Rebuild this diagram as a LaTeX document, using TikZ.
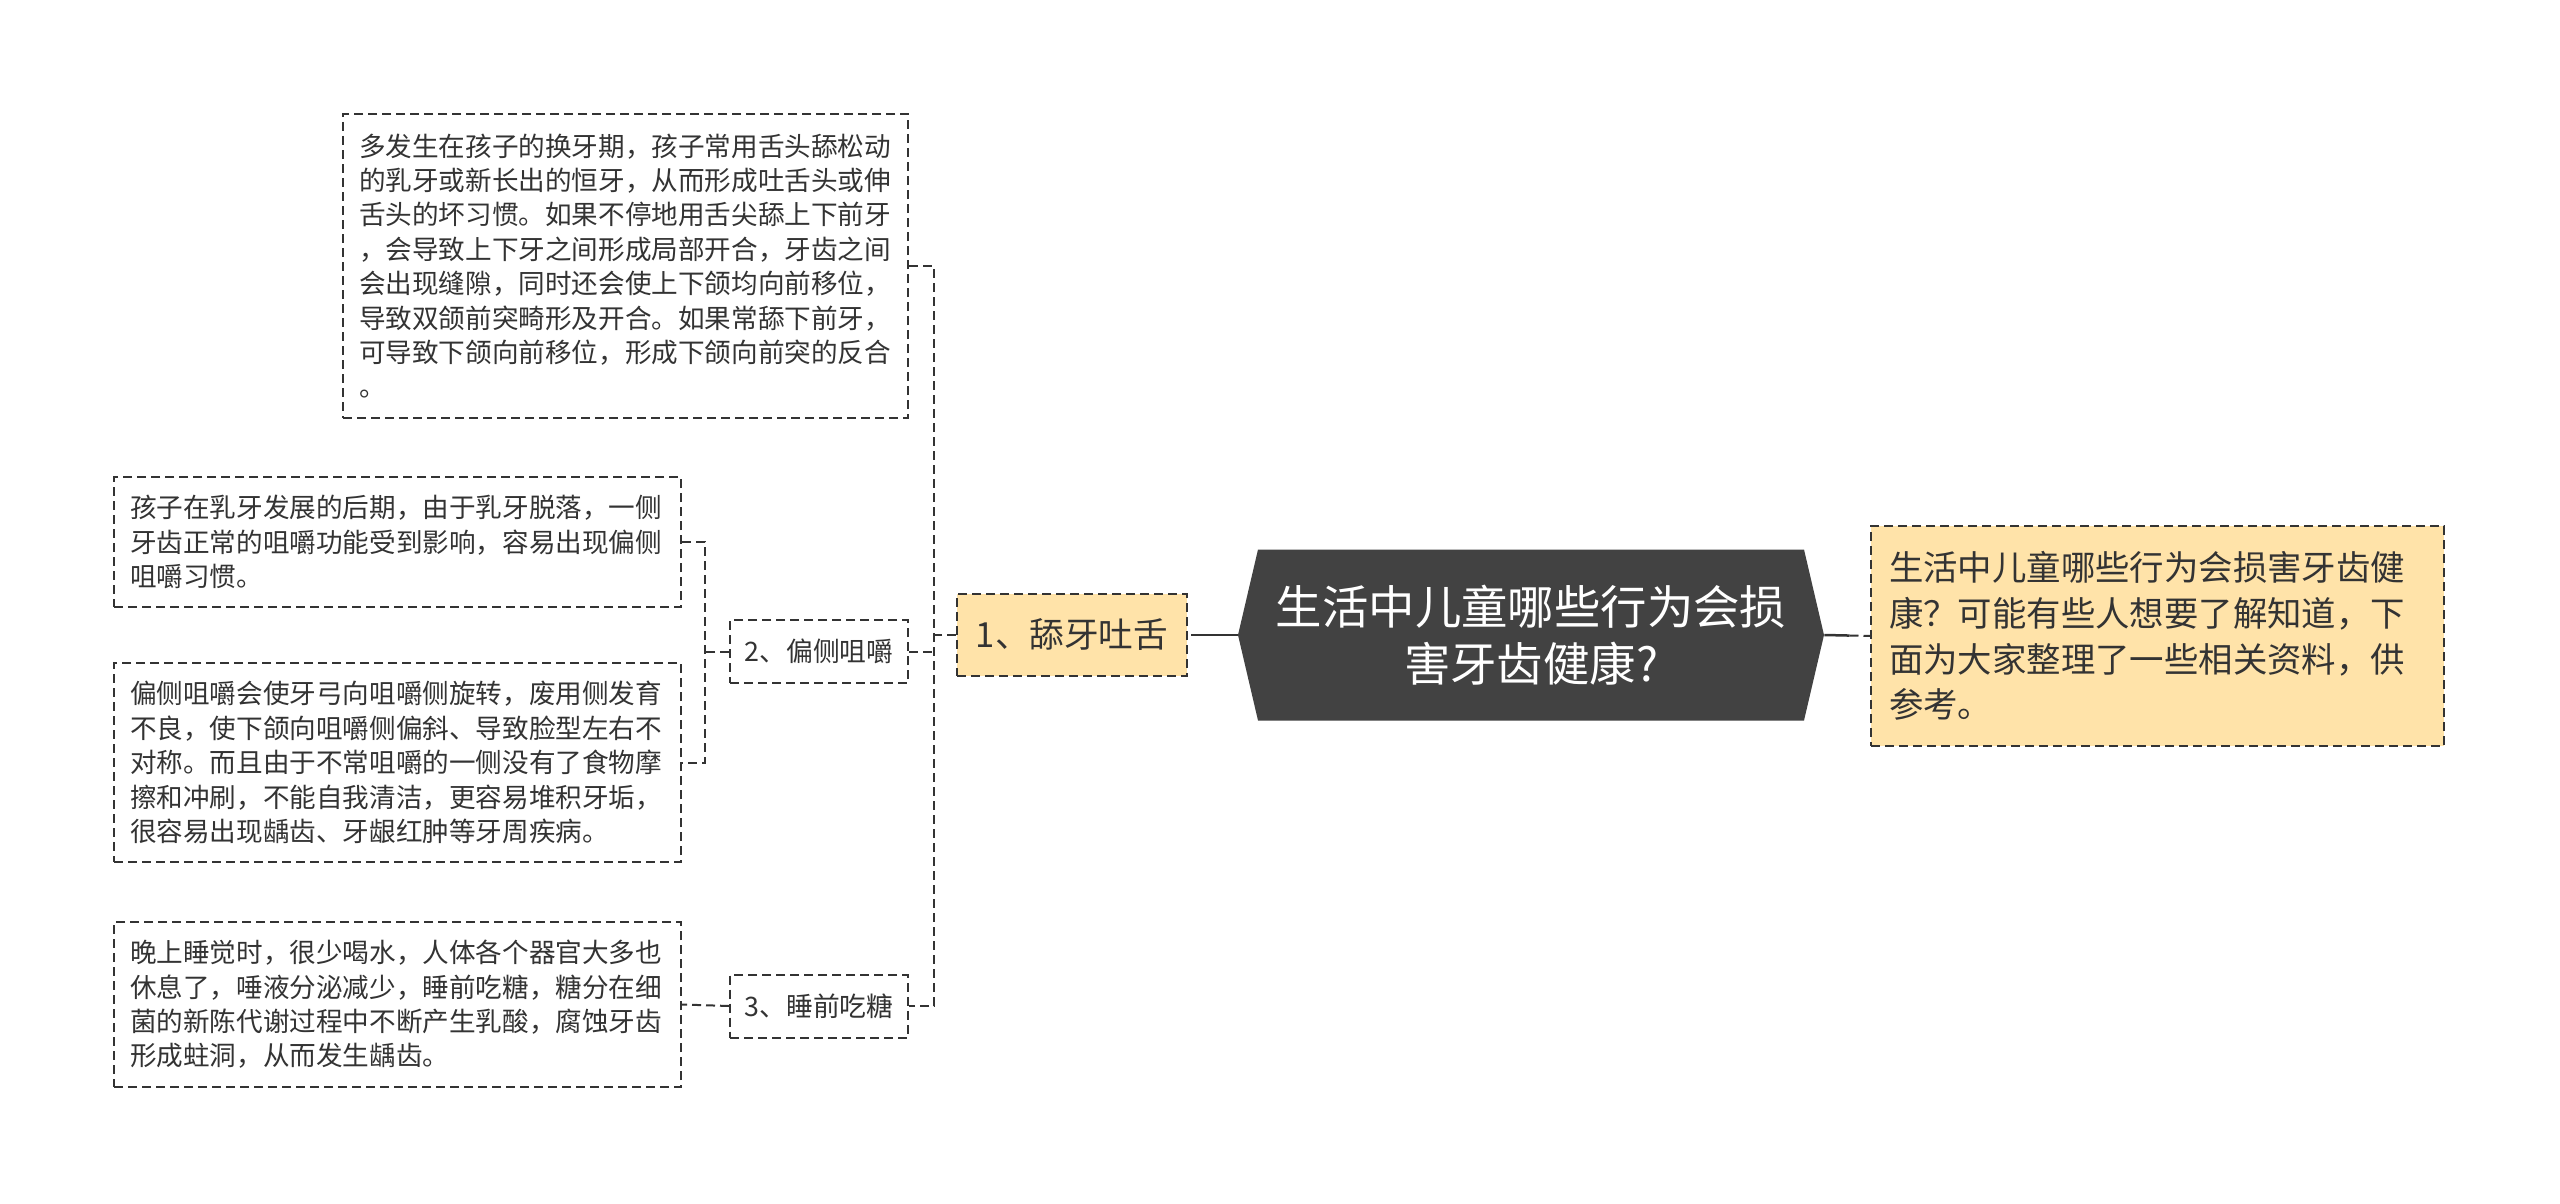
\documentclass[tikz,border=0pt]{standalone}
\usepackage{fontspec}
\setmainfont{Noto Sans CJK SC}
\usetikzlibrary{positioning, calc}
\definecolor{inkgray}{HTML}{333333}
\definecolor{rootgray}{HTML}{424242}
\definecolor{topicfill}{HTML}{FFE3A9}
\tikzset{
  rootbox/.style={minimum width=293pt, minimum height=85.5pt, inner sep=0pt, align=center,
    text=white, font=\fontsize{23.2pt}{28.6pt}\selectfont,
    path picture={\fill[rootgray] ([xshift=10pt]path picture bounding box.north west)
      -- ([xshift=-10pt]path picture bounding box.north east) -- (path picture bounding box.east)
      -- ([xshift=-10pt]path picture bounding box.south east)
      -- ([xshift=10pt]path picture bounding box.south west) -- (path picture bounding box.west) -- cycle;}},
  topic/.style={draw=inkgray, line width=1pt, dash pattern=on 4.5pt off 2.5pt, fill=topicfill,
    text=inkgray, inner sep=0pt},
  sub/.style={draw=inkgray, line width=1pt, dash pattern=on 4.5pt off 2.5pt, text=inkgray,
    inner sep=0pt, minimum width=89pt, minimum height=31.5pt, font=\fontsize{13.4pt}{17.2pt}\selectfont},
  note/.style={draw=inkgray, line width=1pt, dash pattern=on 4.5pt off 2.5pt, text=inkgray,
    inner xsep=8pt, inner ysep=0pt, align=left, text width=267.5pt,
    font=\fontsize{13.3pt}{17.2pt}\selectfont},
  trunk/.style={draw=inkgray, line width=1.25pt},
  branch/.style={draw=inkgray, line width=1pt, dash pattern=on 4.5pt off 2.5pt}
}
\begin{document}
\begin{tikzpicture}[x=0.5pt, y=-0.5pt]
    \fill[white] (0,0) rectangle (2560,1204);
    \node[rootbox] (root) at (1531,635) {生活中儿童哪些行为会损\\害牙齿健康?};
    \node[topic, minimum width=115pt, minimum height=41pt, font=\fontsize{17.3pt}{21pt}\selectfont] (lick) at (1072,635) {1、舔牙吐舌};
    \node[topic, align=left, text width=268.5pt, inner xsep=9pt, minimum height=110pt,
      font=\fontsize{17.2pt}{22.9pt}\selectfont] (intro) at (2157.5,636) {生活中儿童哪些行为会损害牙齿健\\康？可能有些人想要了解知道，下\\面为大家整理了一些相关资料，供\\参考。};
    \node[note, text width=266.5pt, minimum height=152pt] (lickdesc) at (625.5,266) {多发生在孩子的换牙期，孩子常用舌头舔松动\\的乳牙或新长出的恒牙，从而形成吐舌头或伸\\舌头的坏习惯。如果不停地用舌尖舔上下前牙\\，会导致上下牙之间形成局部开合，牙齿之间\\会出现缝隙，同时还会使上下颌均向前移位，\\导致双颌前突畸形及开合。如果常舔下前牙，\\可导致下颌向前移位，形成下颌向前突的反合\\。};
    \node[sub] (chew) at (819,651.5) {2、偏侧咀嚼};
    \node[sub] (candy) at (819,1006) {3、睡前吃糖};
    \node[note, minimum height=65pt] (chewdesc1) at (397.5,542) {孩子在乳牙发展的后期，由于乳牙脱落，一侧\\牙齿正常的咀嚼功能受到影响，容易出现偏侧\\咀嚼习惯。};
    \node[note, minimum height=99.5pt] (chewdesc2) at (397.5,762.5) {偏侧咀嚼会使牙弓向咀嚼侧旋转，废用侧发育\\不良，使下颌向咀嚼侧偏斜、导致脸型左右不\\对称。而且由于不常咀嚼的一侧没有了食物摩\\擦和冲刷，不能自我清洁，更容易堆积牙垢，\\很容易出现龋齿、牙龈红肿等牙周疾病。};
    \node[note, minimum height=82.5pt] (candydesc) at (397.5,1004.5) {晚上睡觉时，很少喝水，人体各个器官大多也\\休息了，唾液分泌减少，睡前吃糖，糖分在细\\菌的新陈代谢过程中不断产生乳酸，腐蚀牙齿\\形成蛀洞，从而发生龋齿。};
    \coordinate (lickjoint) at (934,635);
    \coordinate (chewjoint) at (705,651.5);
    \coordinate (leftsplit) at ($(lick.east)!0.25!(root.west)$);
    \coordinate (rightsplit) at ($(root.east)!0.55!(intro.west)$);
    \draw[trunk] (root.west) -- (leftsplit);
    \draw[branch] (leftsplit) -- (lick.east);
    \draw[trunk] (root.east) -- (rightsplit);
    \draw[branch] (rightsplit) -- (intro.west);
    \draw[branch] (lick.west) -- (lickjoint);
    \draw[branch] (lickdesc.east) -| (lickjoint) |- (candy.east);
    \draw[branch] (chew.east) -- (chew.east -| lickjoint);
    \draw[branch] (chew.west) -- (chewjoint);
    \draw[branch] (chewdesc1.east) -| (chewjoint) |- (chewdesc2.east);
    \draw[branch] (candy.west) -- (candydesc.east);
  \end{tikzpicture}
\end{document}
